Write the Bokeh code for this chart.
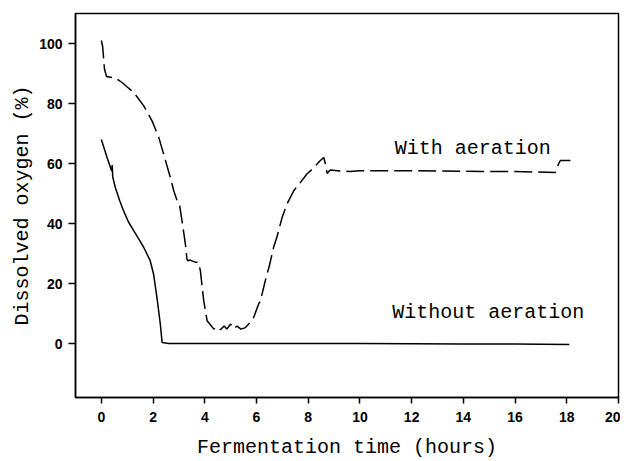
from bokeh.plotting import figure
from bokeh.models import Range1d, FixedTicker
from bokeh.embed import file_html
from bokeh.resources import INLINE
from bokeh.core.properties import value

# ---- data ----
time_without = [0.0, 0.22, 0.40, 0.42, 0.44, 0.54, 0.71, 0.86, 1.05, 1.25, 1.45,
                 1.64, 1.89, 2.02, 2.15, 2.28, 2.35, 2.6, 4.0, 6.0, 8.0, 10.0,
                 12.0, 14.0, 16.0, 18.1]
oxygen_without = [68.0, 62.0, 57.5, 59.5, 55.5, 52.0, 47.6, 44.2, 40.5, 37.6, 34.8,
                  32.0, 27.6, 23.1, 15.3, 6.5, 0.3, 0.0, 0.0, 0.0, 0.0, 0.0,
                  -0.1, -0.2, -0.2, -0.3]

time_with = [0.0, 0.05, 0.12, 0.2, 0.54, 0.8, 1.0, 1.25, 1.4, 1.64, 1.96, 2.22,
             2.41, 2.67, 2.8, 2.93, 3.03, 3.12, 3.25, 3.31, 3.35, 3.44, 3.6, 3.76,
             3.83, 3.96, 4.09, 4.24, 4.35, 4.5, 4.6, 4.75, 4.85, 5.0, 5.1, 5.25,
             5.4, 5.57, 5.7, 5.89, 6.08, 6.15, 6.34, 6.5, 6.66, 6.79, 6.99, 7.18,
             7.31, 7.44, 7.7, 7.95, 8.2, 8.47, 8.6, 8.66, 8.73, 8.85, 9.6, 10.0,
             12.0, 14.0, 16.0, 17.56, 17.68, 17.75, 18.14]
oxygen_with = [101.0, 99.0, 91.5, 89.0, 88.5, 87.0, 85.5, 83.7, 82.0, 79.2, 74.2, 68.7,
               63.1, 55.3, 50.9, 47.6, 45.9, 40.9, 33.1, 28.1, 27.6, 27.8, 27.2, 27.0,
               24.2, 14.2, 7.6, 6.0, 4.8, 5.5, 4.6, 5.8, 4.8, 6.5, 5.0, 5.8,
               4.8, 5.3, 6.5, 8.7, 13.1, 14.2, 20.9, 26.0, 32.0, 35.5, 42.0, 46.5,
               48.7, 50.9, 53.7, 56.5, 58.5, 61.0, 62.0, 60.0, 56.7, 57.8, 57.3, 57.6,
               57.6, 57.4, 57.3, 57.0, 59.8, 61.0, 61.0]

x_ticks = [0, 2, 4, 6, 8, 10, 12, 14, 16, 18, 20]
y_ticks = [0, 20, 40, 60, 80, 100]

label_with = "With aeration"
label_without = "Without aeration"

p = figure(width=620, height=461, output_backend="svg", toolbar_location=None,
           x_range=Range1d(-1, 20), y_range=Range1d(-18, 110),
           min_border_left=75, min_border_top=13, min_border_right=2,
           min_border_bottom=64)

p.grid.visible = False
p.background_fill_color = "white"
p.border_fill_color = "white"
p.outline_line_color = "black"
p.outline_line_width = 1.5

p.line(time_without, oxygen_without, line_color="black", line_width=1.5)
p.line(time_with, oxygen_with, line_color="black", line_width=1.5, line_dash="18 6")

p.text(x=[11.35], y=[65.0], text=[label_with], text_font=value("Liberation Mono"),
       text_font_size="20px", text_color="black", text_baseline="alphabetic",
       text_align="left")
p.text(x=[11.25], y=[10.3], text=[label_without], text_font=value("Liberation Mono"),
       text_font_size="20px", text_color="black", text_baseline="alphabetic",
       text_align="left")

for ax, ticks in ((p.xaxis, x_ticks), (p.yaxis, y_ticks)):
    ax.ticker = FixedTicker(ticks=ticks)
    ax.minor_tick_line_color = None
    ax.major_tick_in = 0
    ax.axis_line_width = 1.5
    ax.major_tick_line_width = 1.5
    ax.major_label_text_font = "Liberation Sans"
    ax.major_label_text_font_size = "14px"
    ax.major_label_text_font_style = "bold"
    ax.major_label_text_color = "black"
    ax.axis_label_text_font = "Liberation Mono"
    ax.axis_label_text_font_size = "20px"
    ax.axis_label_text_font_style = "normal"
    ax.axis_label_text_color = "black"

p.xaxis.axis_label = "Fermentation time (hours)"
p.yaxis.axis_label = "Dissolved oxygen (%)"
p.xaxis.major_tick_out = 6
p.yaxis.major_tick_out = 7
p.xaxis.major_label_standoff = 8
p.yaxis.major_label_standoff = 6
p.xaxis.axis_label_standoff = 11
p.yaxis.axis_label_standoff = 2

open("out.html", "w").write(file_html(p, INLINE))
